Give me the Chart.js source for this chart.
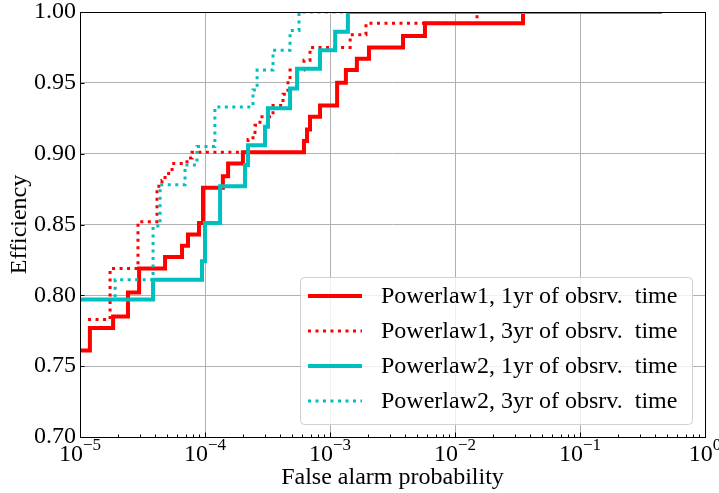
<!DOCTYPE html>
<html>
<head>
<meta charset="utf-8">
<script src="https://cdn.jsdelivr.net/npm/chart.js@4"></script>
<style>
  body { margin: 0; background: #fff; }
</style>
</head>
<body>
<canvas id="chart" width="719" height="493"></canvas>
<script>
const FONT = "'Liberation Serif', 'Times New Roman', serif";

// x axis decades (log scale) and their exponents
const xTickVals = [1e-5, 1e-4, 1e-3, 1e-2, 1e-1, 1];
const xTickExps = ['\u22125', '\u22124', '\u22123', '\u22122', '\u22121', '0'];

const seriesLabels = [
    'Powerlaw1, 1yr of obsrv.  time',
    'Powerlaw1, 3yr of obsrv.  time',
    'Powerlaw2, 1yr of obsrv.  time',
    'Powerlaw2, 3yr of obsrv.  time'
];

// step curves: value holds from x[i] up to x[i+1]
const pl1yrX = [1e-5, 1.2e-5, 1.84e-5, 2.42e-5, 2.97e-5, 4.79e-5, 6.55e-5, 7.31e-5, 8.95e-5, 9.64e-5,
                1.39e-4, 1.53e-4, 2.01e-4, 6.19e-4, 6.55e-4, 6.92e-4, 8.32e-4, 1.14e-3, 1.34e-3,
                1.64e-3, 2.05e-3, 3.84e-3, 5.75e-3, 3.5e-2, 0.453];
const pl1yrY = [0.761, 0.777, 0.785, 0.802, 0.819, 0.827, 0.835, 0.843, 0.851, 0.876,
                0.884, 0.893, 0.901, 0.909, 0.917, 0.926, 0.934, 0.950, 0.959,
                0.967, 0.975, 0.983, 0.992, 1.0, 1.0];

const pl3yrX = [1.16e-5, 1.74e-5, 2.91e-5, 4.13e-5, 4.53e-5, 4.79e-5, 5.45e-5, 7.18e-5, 7.87e-5,
                2.21e-4, 2.42e-4, 2.51e-4, 2.75e-4, 3.5e-4, 4.21e-4, 4.61e-4, 4.79e-4,
                6.19e-4, 6.92e-4, 1.45e-3, 1.94e-3, 1.5e-2, 0.453];
const pl3yrY = [0.783, 0.819, 0.852, 0.877, 0.881, 0.886, 0.893, 0.897, 0.901,
                0.910, 0.915, 0.920, 0.926, 0.934, 0.942, 0.950, 0.959,
                0.966, 0.975, 0.984, 0.992, 1.0, 1.0];

const p2l1yrX = [1e-5, 3.84e-5, 9.46e-5, 1.0e-4, 1.32e-4, 2.09e-4, 2.21e-4, 3.02e-4, 3.19e-4,
                 4.79e-4, 5.45e-4, 8.32e-4, 1.10e-3, 1.39e-3, 0.453];
const p2l1yrY = [0.797, 0.811, 0.824, 0.851, 0.877, 0.892, 0.906, 0.919, 0.932,
                 0.946, 0.960, 0.973, 0.986, 1.0, 1.0];

const p2l3yrX = [1e-5, 1.91e-5, 3.84e-5, 4.37e-5, 6.92e-5, 8.63e-5, 1.20e-4, 2.42e-4, 2.61e-4,
                 3.5e-4, 4.79e-4, 5.65e-4, 0.453];
const p2l3yrY = [0.797, 0.811, 0.849, 0.878, 0.892, 0.905, 0.933, 0.945, 0.959,
                 0.973, 0.987, 1.0, 1.0];

const RED = '#ff0000';
const CYAN = '#00bfbf';

function toPoints(xs, ys) {
    return xs.map((x, i) => ({x: x, y: ys[i]}));
}

function makeSet(label, xs, ys, color, dotted, order) {
    return {
        label: label,
        data: toPoints(xs, ys),
        borderColor: color,
        borderWidth: dotted ? 3 : 4,
        borderDash: dotted ? [3, 4.5] : [],
        borderCapStyle: 'butt',
        stepped: 'before', // horizontal first, then up at the next x
        pointRadius: 0,
        fill: false,
        order: order
    };
}

// ticks, frame, superscript labels and the in-axes legend
const decor = {
    id: 'decor',
    afterDraw(chart) {
        const ctx = chart.ctx;
        const a = chart.chartArea;
        const xs = chart.scales.x;
        const ys = chart.scales.y;
        ctx.save();

        ctx.strokeStyle = '#000';
        ctx.lineWidth = 1;
        ctx.beginPath();
        for (let d = -5; d < 0; d++) {
            for (let m = 2; m <= 9; m++) {
                const px = Math.round(xs.getPixelForValue(m * Math.pow(10, d))) + 0.5;
                ctx.moveTo(px, a.bottom);
                ctx.lineTo(px, a.bottom - 2.5);
            }
        }
        xTickVals.forEach(v => {
            const px = Math.round(xs.getPixelForValue(v)) + 0.5;
            ctx.moveTo(px, a.bottom);
            ctx.lineTo(px, a.bottom - 4.5);
        });
        ys.ticks.forEach(t => {
            const py = Math.round(ys.getPixelForValue(t.value)) + 0.5;
            ctx.moveTo(a.left, py);
            ctx.lineTo(a.left + 4.5, py);
        });
        ctx.stroke();

        ctx.strokeRect(Math.round(a.left) + 0.5, Math.round(a.top) + 0.5,
                       Math.round(a.right - a.left), Math.round(a.bottom - a.top));

        // 10^n labels
        ctx.fillStyle = '#000';
        ctx.textBaseline = 'alphabetic';
        ctx.textAlign = 'left';
        xTickVals.forEach((v, i) => {
            const px = xs.getPixelForValue(v);
            ctx.font = '24px ' + FONT;
            const w1 = ctx.measureText('10').width;
            ctx.font = '17px ' + FONT;
            const w2 = ctx.measureText(xTickExps[i]).width;
            const x0 = px - (w1 + w2) / 2;
            ctx.font = '24px ' + FONT;
            ctx.fillText('10', x0, a.bottom + 24);
            ctx.font = '17px ' + FONT;
            ctx.fillText(xTickExps[i], x0 + w1, a.bottom + 13);
        });

        // legend
        const lx = 300, ly = 277, lw = 392, lh = 147;
        ctx.beginPath();
        if (ctx.roundRect) ctx.roundRect(lx + 0.5, ly + 0.5, lw, lh, 4);
        else ctx.rect(lx + 0.5, ly + 0.5, lw, lh);
        ctx.fillStyle = 'rgba(255,255,255,0.8)';
        ctx.fill();
        ctx.strokeStyle = '#d0d0d0';
        ctx.lineWidth = 1;
        ctx.stroke();

        ctx.font = '24px ' + FONT;
        ctx.textBaseline = 'middle';
        chart.data.datasets.forEach((ds, i) => {
            const yy = ly + 19 + i * 35;
            ctx.beginPath();
            ctx.strokeStyle = ds.borderColor;
            ctx.lineWidth = ds.borderWidth;
            ctx.setLineDash(ds.borderDash);
            ctx.moveTo(lx + 8, yy);
            ctx.lineTo(lx + 62, yy);
            ctx.stroke();
            ctx.setLineDash([]);
            ctx.fillStyle = '#000';
            ctx.fillText(ds.label, lx + 81, yy + 1);
        });

        ctx.restore();
    }
};

const ctx = document.getElementById('chart').getContext('2d');
const chart = new Chart(ctx, {
    type: 'line',
    data: {
        datasets: [
            makeSet(seriesLabels[0], pl1yrX, pl1yrY, RED, false, 4),
            makeSet(seriesLabels[1], pl3yrX, pl3yrY, RED, true, 3),
            makeSet(seriesLabels[2], p2l1yrX, p2l1yrY, CYAN, false, 2),
            makeSet(seriesLabels[3], p2l3yrX, p2l3yrY, CYAN, true, 1)
        ]
    },
    options: {
        responsive: false,
        animation: false,
        layout: {padding: {top: 12, right: 14, left: 0, bottom: 0}},
        plugins: {
            legend: {display: false},
            tooltip: {enabled: false}
        },
        scales: {
            x: {
                type: 'logarithmic',
                min: 1e-5,
                max: 1,
                afterBuildTicks: s => { s.ticks = xTickVals.map(v => ({value: v})); },
                afterFit: s => { s.height = 56; s.paddingLeft = 0; s.paddingRight = 0; },
                ticks: {display: false},
                grid: {color: '#b0b0b0', lineWidth: 1, drawTicks: false},
                border: {display: false},
                title: {
                    display: true,
                    text: 'False alarm probability',
                    color: '#000',
                    font: {family: FONT, size: 24},
                    padding: {top: 0, bottom: 1}
                }
            },
            y: {
                min: 0.7,
                max: 1.0,
                afterFit: s => { s.width = 80; s.paddingTop = 0; s.paddingBottom = 0; },
                ticks: {
                    stepSize: 0.05,
                    color: '#000',
                    padding: 4,
                    font: {family: FONT, size: 24},
                    callback: v => v.toFixed(2)
                },
                grid: {color: '#b0b0b0', lineWidth: 1, drawTicks: false},
                border: {display: false},
                title: {
                    display: true,
                    text: 'Efficiency',
                    color: '#000',
                    font: {family: FONT, size: 24},
                    padding: {top: 5, bottom: 0}
                }
            }
        }
    },
    plugins: [decor]
});
</script>
</body>
</html>
